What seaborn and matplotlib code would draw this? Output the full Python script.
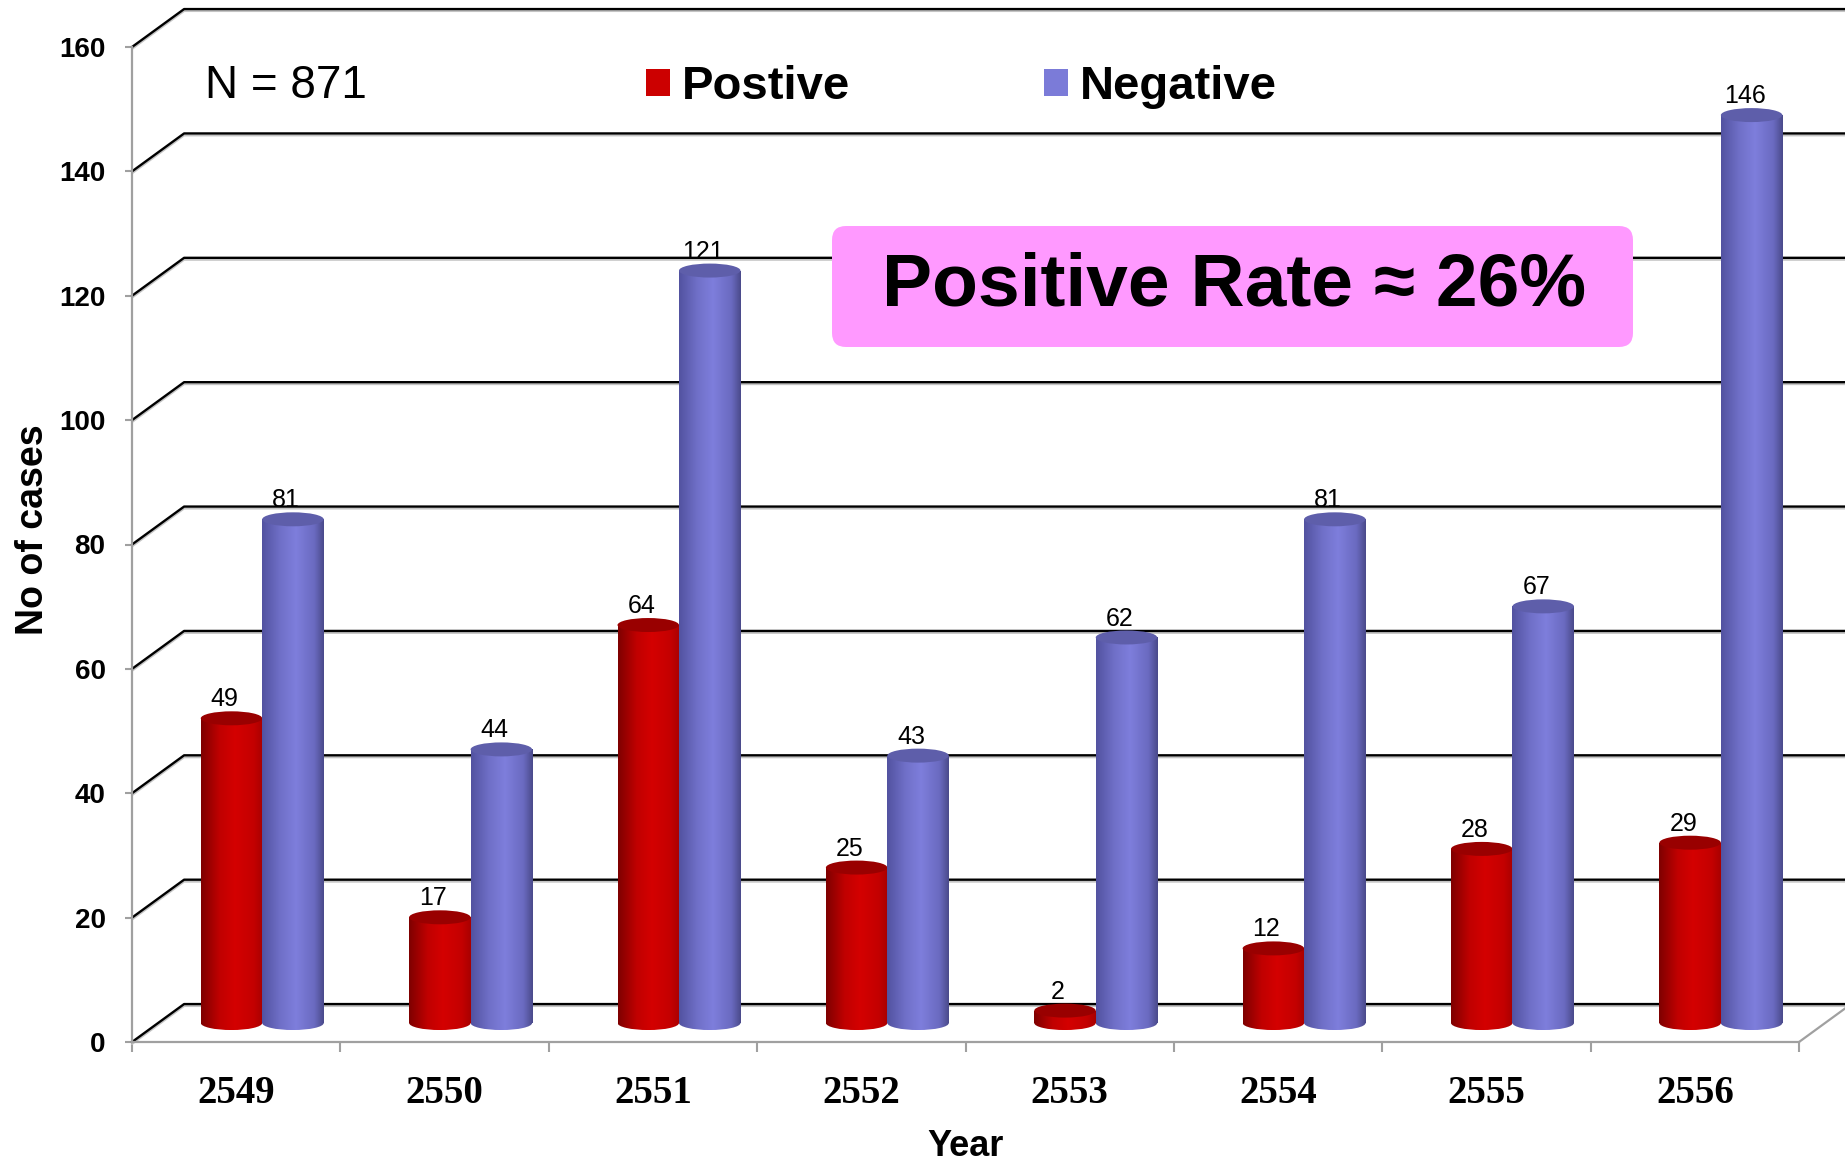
import numpy as np
import pandas as pd
import matplotlib
matplotlib.use("Agg")
import matplotlib.pyplot as plt
import matplotlib.transforms as mtransforms
from matplotlib.patches import Ellipse, FancyBboxPatch, Patch
from matplotlib.colors import LinearSegmentedColormap
import seaborn as sns

# ---- data -------------------------------------------------------------
years = ["2549", "2550", "2551", "2552", "2553", "2554", "2555", "2556"]
positive = [49, 17, 64, 25, 2, 12, 28, 29]
negative = [81, 44, 121, 43, 62, 81, 67, 146]
series_names = ["Postive", "Negative"]
y_ticks = [0, 20, 40, 60, 80, 100, 120, 140, 160]
total_text = "N = 871"
rate_text = "Positive Rate \u2248 26%"

df = pd.DataFrame({
    "Year": years + years,
    "Result": [series_names[0]] * len(years) + [series_names[1]] * len(years),
    "Cases": positive + negative,
})
series_values = [positive, negative]

# ---- style ------------------------------------------------------------
sns.set_style("white")
plt.rcParams["font.family"] = ["Liberation Sans", "DejaVu Sans"]
plt.rcParams["text.color"] = "black"
plt.rcParams["axes.labelcolor"] = "black"

RED = "#CC0000"
BLUE = "#7B7BD8"
AXIS_GREY = "#A0A0A0"
red_cmap = LinearSegmentedColormap.from_list(
    "red_cyl", [(0, "#7E0000"), (0.3, "#C00000"), (0.55, "#D40000"),
                (0.85, "#C40000"), (1, "#A80000")])
blue_cmap = LinearSegmentedColormap.from_list(
    "blue_cyl", [(0, "#5252A0"), (0.3, "#7070C8"), (0.55, "#7E7EDC"),
                 (0.85, "#6A6AC0"), (1, "#4A4A8A")])
CAP_COLORS = ["#990000", "#5E5EAA"]
CMAPS = [red_cmap, blue_cmap]

# 3-D look: depth of the floor in category / value units
DEPTH_X = 0.25
DEPTH_Y = 6.1
ELL_H = 2.25  # height of the cylinder end ellipses (value units)

W, H = 1845, 1165
fig = plt.figure(figsize=(W / 100, H / 100), dpi=100)
x_left, x_right = 132, 1799
y_floor, y_top = 1042, 47
ax = fig.add_axes([x_left / W, 1 - y_floor / H,
                   (x_right - x_left) / W, (y_floor - y_top) / H])

sns.barplot(data=df, x="Year", y="Cases", hue="Result", order=years,
            hue_order=series_names, palette=[RED, BLUE], saturation=1,
            width=0.59, gap=0, errorbar=None, legend=False, linewidth=0,
            ax=ax)

# ---- back wall grid lines ------------------------------------------------
shadow = mtransforms.offset_copy(ax.transData, fig=fig, x=0, y=-2, units="dots")
for v in y_ticks:
    xs = [-0.5, -0.5 + DEPTH_X, 7.5 + DEPTH_X]
    ys = [v, v + DEPTH_Y, v + DEPTH_Y]
    ax.plot(xs, ys, color="#C4C4C4", lw=1.4, transform=shadow,
            clip_on=False, zorder=1)
    ax.plot(xs, ys, color="black", lw=1.7, clip_on=False, zorder=1.1)
ax.plot([7.5, 7.5 + DEPTH_X], [0, DEPTH_Y], color=AXIS_GREY, lw=1.6,
        clip_on=False, zorder=1.2)

# ---- cylinders ---------------------------------------------------------
grad = np.linspace(0, 1, 256)[None, :]
for s, container in enumerate(ax.containers):
    z = 3 + s
    for patch in container.patches:
        x0 = patch.get_x() + DEPTH_X / 2
        patch.set_x(x0)
        patch.set_y(DEPTH_Y / 2)
        patch.set_zorder(z)
        w = patch.get_width()
        y0 = DEPTH_Y / 2
        y1 = y0 + patch.get_height()
        body = ax.imshow(grad, cmap=CMAPS[s], extent=(x0, x0 + w, y0, y1),
                         aspect="auto", origin="lower", zorder=z + 0.1,
                         interpolation="bilinear")
        body.set_clip_path(patch)
        base = Ellipse((x0 + w / 2, y0), w, ELL_H, transform=ax.transData)
        foot = ax.imshow(grad, cmap=CMAPS[s],
                         extent=(x0, x0 + w, y0 - ELL_H / 2, y0),
                         aspect="auto", origin="lower", zorder=z + 0.1,
                         interpolation="bilinear")
        foot.set_clip_path(base)
        ax.add_patch(Ellipse((x0 + w / 2, y1), w, ELL_H, fc=CAP_COLORS[s],
                             ec="none", zorder=z + 0.2))
    labels = ax.bar_label(container, labels=[str(v) for v in series_values[s]],
                          padding=5, fontsize=18, color="black", zorder=6)
    for ann in labels:
        ann.xyann = (-5, 5)

# ---- axes ------------------------------------------------------------------
ax.set_xlim(-0.5, 7.5)
ax.set_ylim(0, 160)
ax.set_yticks(y_ticks)
ax.tick_params(axis="y", which="major", length=5, width=1.5, color=AXIS_GREY,
               pad=14, labelsize=20, left=True, labelcolor="black")
for lab in ax.get_yticklabels():
    lab.set_fontweight("bold")
ax.set_xticks(range(len(years)))
ax.set_xticklabels(years, fontfamily=["Liberation Serif"], fontweight="bold",
                   fontsize=28)
ax.set_xticks(np.arange(-0.5, len(years), 1), minor=True)
ax.tick_params(axis="x", which="major", length=0, pad=24, labelcolor="black")
ax.tick_params(axis="x", which="minor", length=7, width=1.5,
               color=AXIS_GREY, bottom=True)
for side in ["top", "right"]:
    ax.spines[side].set_visible(False)
for side in ["left", "bottom"]:
    ax.spines[side].set_color(AXIS_GREY)
    ax.spines[side].set_linewidth(1.6)
ax.grid(False)

ax.set_xlabel("Year", fontsize=26, fontweight="bold")
ax.xaxis.set_label_coords(0.5, -0.1055)
ax.xaxis.label.set_va("center")
ax.set_ylabel("No of cases", fontsize=27, fontweight="bold")
ax.yaxis.set_label_coords(-0.0595, 0.5146)
ax.yaxis.label.set_va("center")

# ---- legend and annotations ---------------------------------------------
handles = [Patch(fc=RED, ec="none"), Patch(fc=BLUE, ec="none")]
ax.legend(handles, series_names, ncol=2, frameon=False,
          prop={"size": 34, "weight": "bold"}, handlelength=0.51,
          handleheight=0.51, handletextpad=0.25, columnspacing=4.1,
          borderpad=0, borderaxespad=0, loc="center left",
          bbox_to_anchor=(646 / W, 1 - 87 / H), bbox_transform=fig.transFigure)

fig.text(205 / W, 1 - 98 / H, total_text, fontsize=33, ha="left",
         va="baseline")

box = FancyBboxPatch((832, H - 347), 801, 121,
                     boxstyle="round,pad=0,rounding_size=14",
                     fc="#FF99FF", ec="none",
                     transform=mtransforms.IdentityTransform(), zorder=2)
fig.add_artist(box)
fig.text(1234 / W, 1 - 306 / H, rate_text, fontsize=54, fontweight="bold",
         ha="center", va="baseline", zorder=4)

fig.savefig("out.png", dpi=100)
